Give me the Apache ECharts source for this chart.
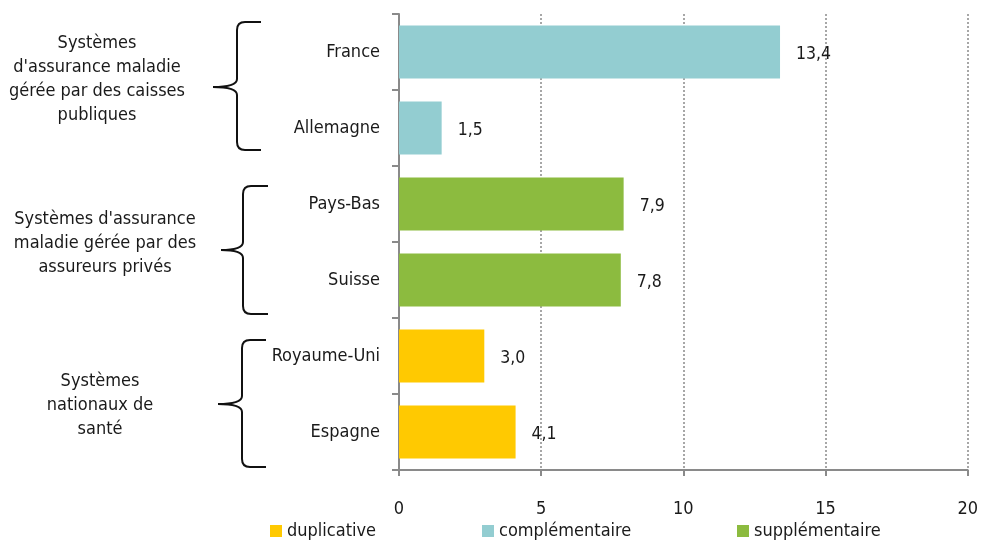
<!DOCTYPE html>
<html><head><meta charset="utf-8">
<script src="https://cdn.jsdelivr.net/npm/echarts@6/dist/echarts.min.js"></script>
<style>html,body{margin:0;padding:0;background:#fff}#c{width:981px;height:540px}</style>
</head><body><div id="c"></div>
<script>
const categories = ['France','Allemagne','Pays-Bas','Suisse','Royaume-Uni','Espagne'];
const duplicative = [null,null,null,null,3.0,4.1];
const complementaire = [13.4,1.5,null,null,null,null];
const supplementaire = [null,null,7.9,7.8,null,null];
const seriesNames = ['duplicative','complémentaire','supplémentaire'];
const xTicks = [0,5,10,15,20];
const groupLabels = [
  "Systèmes\nd'assurance maladie\ngérée par des caisses\npubliques",
  "Systèmes d'assurance\nmaladie gérée par des\nassureurs privés",
  "Systèmes\nnationaux de\nsanté"
];
const FONT = '"Liberation Sans Narrow","Arial Narrow","DejaVu Sans Condensed",sans-serif';
const colors = ['#FFC901','#93CDD1','#8CBB3F'];
const chart = echarts.init(document.getElementById('c'));
const lbl = {show:true, position:'right', distance:16, color:'#1a1a1a', fontSize:17.5, fontFamily:FONT, offset:[0,2],
  formatter:p => p.value==null ? '' : Number(p.value).toFixed(1).replace('.',',')};
function mk(name, data, color){
  return {name, type:'bar', stack:'s', data, barWidth:53, itemStyle:{color}, label:lbl, silent:true};
}
const st = {stroke:'#111', lineWidth:2, fill:null};
function brace(x, top, mid, bot, tipX, w){
  const r = 8;
  const L = (x1,y1,x2,y2)=>({type:'line', shape:{x1,y1,x2,y2}, style:st});
  const B = (x1,y1,cx,cy,x2,y2)=>({type:'bezierCurve', shape:{x1,y1,cpx1:cx,cpy1:cy,x2,y2}, style:st});
  return [
    L(x+w, top, x+r, top),
    B(x+r, top, x, top, x, top+r),
    L(x, top+r, x, mid-r),
    B(x, mid-r, x, mid, tipX, mid),
    B(tipX, mid, x, mid, x, mid+r),
    L(x, mid+r, x, bot-r),
    B(x, bot-r, x, bot, x+r, bot),
    L(x+r, bot, x+w, bot)
  ];
}
function legendAt(name, left){
  return {data:[name], left, top:522, itemWidth:12, itemHeight:12, icon:'rect',
    textStyle:{fontSize:18, fontFamily:FONT, color:'#1a1a1a'}, itemGap:4, selectedMode:false, padding:0};
}
const T = (text, x, y) => ({type:'text', x, y, style:{text, align:'center', verticalAlign:'middle', fontSize:18, lineHeight:24, fontFamily:FONT, fill:'#1a1a1a'}});
chart.setOption({
  animation:false,
  grid:{left:399, right:11, top:14, bottom:70},
  legend:[legendAt(seriesNames[0],270), legendAt(seriesNames[1],482), legendAt(seriesNames[2],737)],
  xAxis:{type:'value', min:xTicks[0], max:xTicks[xTicks.length-1], interval:5,
    axisLine:{show:true, lineStyle:{color:'#8a8a8a', width:2}},
    axisTick:{show:true, length:6, lineStyle:{color:'#8a8a8a', width:2}},
    axisLabel:{margin:30, fontSize:18, fontFamily:FONT, color:'#1a1a1a'},
    splitLine:{show:true, lineStyle:{color:'#8a8a8a', type:[2,2], width:1.5}}},
  yAxis:{type:'category', data:categories, inverse:true,
    axisLine:{show:true, lineStyle:{color:'#8a8a8a', width:2}},
    axisTick:{show:true, length:7, lineStyle:{color:'#8a8a8a', width:2}},
    axisLabel:{margin:19, fontSize:18, fontFamily:FONT, color:'#1a1a1a', padding:[4,0,0,0]}},
  series:[mk(seriesNames[0], duplicative, colors[0]), mk(seriesNames[1], complementaire, colors[1]), mk(seriesNames[2], supplementaire, colors[2])],
  graphic:[].concat(
    brace(237, 22, 87, 150, 213, 24),
    brace(243, 186, 250, 314, 221, 25),
    brace(242, 340, 404, 467, 218, 24),
    [T(groupLabels[0], 97, 79), T(groupLabels[1], 105, 243), T(groupLabels[2], 100, 405)]
  )
});
</script></body></html>
